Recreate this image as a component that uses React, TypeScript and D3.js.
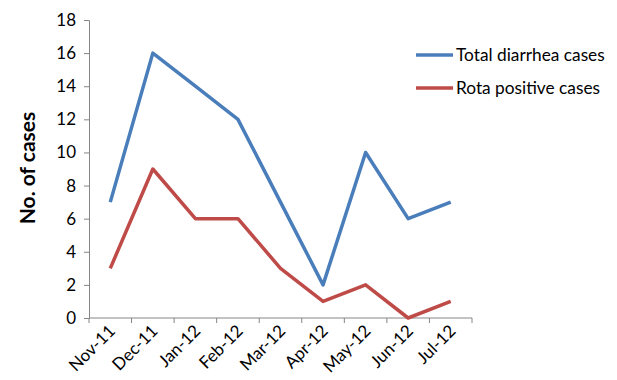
import React, { useEffect, useRef } from 'react';
import * as d3 from 'd3';

// months on the x axis
const months = ['Nov-11', 'Dec-11', 'Jan-12', 'Feb-12', 'Mar-12', 'Apr-12', 'May-12', 'Jun-12', 'Jul-12'];
const totalCases = [7, 16, 14, 12, 7, 2, 10, 6, 7];
const rotaCases = [3, 9, 6, 6, 3, 1, 2, 0, 1];
const yTicks = [0, 2, 4, 6, 8, 10, 12, 14, 16, 18];

const seriesNames = ['Total diarrhea cases', 'Rota positive cases'];
const seriesColors = ['#4a7ebb', '#be4b48'];

export default function App() {
    const ref = useRef<SVGSVGElement>(null);

    useEffect(() => {
        const svg = d3.select(ref.current);
        svg.selectAll('*').remove();

        const font = 'Lato, "Open Sans", sans-serif';
        const left = 89, right = 472, top = 20, bottom = 318;

        const x = d3.scaleBand().domain(months).range([left, right]);
        const y = d3.scaleLinear().domain([0, 18]).range([bottom, top]);

        // axes
        const axisColor = '#868686';
        const yAxis = svg.append('g')
            .attr('transform', `translate(${left},0)`)
            .call(d3.axisLeft(y).tickValues(yTicks).tickSize(5).tickPadding(8));
        yAxis.select('.domain').attr('stroke', axisColor);
        yAxis.selectAll('line').attr('stroke', axisColor);
        yAxis.selectAll('text')
            .attr('font-family', font).attr('font-size', 17).attr('fill', '#000');

        const xAxis = svg.append('g')
            .attr('transform', `translate(0,${bottom})`);
        xAxis.append('line')
            .attr('x1', left).attr('x2', right)
            .attr('stroke', axisColor);
        const edges = months.map(m => x(m) as number).concat([right]);
        xAxis.selectAll('.tick')
            .data(edges)
            .enter().append('line')
            .attr('x1', d => d).attr('x2', d => d)
            .attr('y1', 0).attr('y2', 5)
            .attr('stroke', axisColor);
        xAxis.selectAll('.lbl')
            .data(months)
            .enter().append('text')
            .attr('transform', d => `translate(${(x(d) as number) + x.bandwidth() / 2 + 6},${14}) rotate(-45)`)
            .attr('text-anchor', 'end')
            .attr('font-family', font)
            .attr('font-size', 17)
            .text(d => d);

        // y title
        svg.append('text')
            .attr('transform', `translate(35,168) rotate(-90)`)
            .attr('text-anchor', 'middle')
            .attr('font-family', font)
            .attr('font-weight', 'bold')
            .attr('font-size', 21)
            .text('No. of cases');

        // lines
        const line = d3.line<number>()
            .x((d, i) => (x(months[i]) as number) + x.bandwidth() / 2)
            .y(d => y(d));
        [totalCases, rotaCases].forEach((s, i) => {
            svg.append('path')
                .attr('d', line(s) as string)
                .attr('fill', 'none')
                .attr('stroke', seriesColors[i])
                .attr('stroke-width', 3.5)
                .attr('stroke-linejoin', 'round');
        });

        // legend
        seriesNames.forEach((name, i) => {
            const ly = 55 + i * 33;
            svg.append('line')
                .attr('x1', 416).attr('x2', 453)
                .attr('y1', ly).attr('y2', ly)
                .attr('stroke', seriesColors[i])
                .attr('stroke-width', 3.5);
            svg.append('text')
                .attr('x', 456).attr('y', ly)
                .attr('dy', '0.35em')
                .attr('font-family', font)
                .attr('font-size', 17.3)
                .text(name);
        });
    }, []);

    return (
        <svg ref={ref} width={617} height={380}
            style={{ position: 'absolute', left: 0, top: 0, background: '#fff' }} />
    );
}
